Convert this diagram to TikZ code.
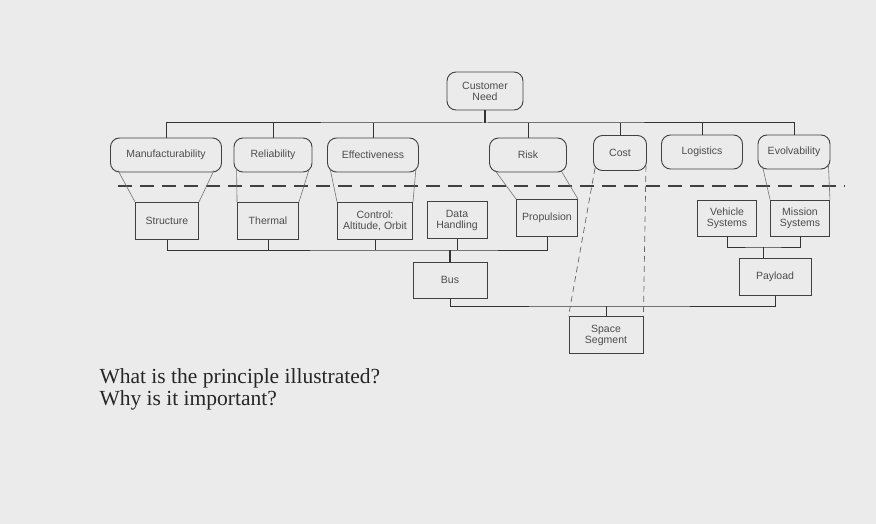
\documentclass[tikz,border=0pt]{standalone}
\usepackage{fontspec}
\setmainfont{Liberation Serif}
\newfontfamily\arial{Liberation Sans}
\begin{document}
\begin{tikzpicture}[x=1pt,y=-1pt,
  rbox/.style={draw=black!75,rounded corners=9pt,line width=0.9pt,minimum height=34pt,inner sep=1pt,font=\arial\fontsize{10.5}{11}\selectfont,text=black!70,align=center},
  sbox/.style={draw=black!75,line width=0.9pt,minimum height=37pt,inner sep=1pt,font=\arial\fontsize{10.5}{11}\selectfont,text=black!70,align=center},
  tree/.style={draw=black!80,line width=1pt},
  fun/.style={draw=black!55,line width=0.6pt},
  fdash/.style={draw=black!60,line width=0.7pt,dash pattern=on 6pt off 4pt}]
\fill[black!8] (0,0) rectangle (876,524);
\useasboundingbox (0,0) rectangle (876,524);
\node[rbox,minimum width=76pt,minimum height=38pt] (cn) at (485,91) {Customer\\Need};
\node[rbox,minimum width=111pt] (mf) at (166,155) {Manufacturability};
\node[rbox,minimum width=78pt] (re) at (273,155) {Reliability};
\node[rbox,minimum width=91pt] (ef) at (373,155) {Effectiveness};
\node[rbox,minimum width=77pt] (ri) at (528,155) {Risk};
\node[rbox,minimum width=53pt,minimum height=35pt] (co) at (620,153) {Cost};
\node[rbox,minimum width=81pt] (lo) at (702,152) {Logistics};
\node[rbox,minimum width=72pt] (ev) at (794,152) {Evolvability};
\node[sbox,minimum width=63pt] (st) at (167,221) {Structure};
\node[sbox,minimum width=61pt] (th) at (268,221) {Thermal};
\node[sbox,minimum width=75pt] (ct) at (375,221) {Control:\\Altitude, Orbit};
\node[sbox,minimum width=60pt] (dh) at (457,220) {Data\\Handling};
\node[sbox,minimum width=61pt] (pr) at (547,218) {Propulsion};
\node[sbox,minimum width=59pt,minimum height=36pt] (vs) at (727,218) {Vehicle\\Systems};
\node[sbox,minimum width=59pt,minimum height=36pt] (ms) at (800,218) {Mission\\Systems};
\node[sbox,minimum width=74pt,minimum height=36pt] (bu) at (450,280) {Bus};
\node[sbox,minimum width=72pt,minimum height=37pt] (pl) at (775,277) {Payload};
\node[sbox,minimum width=74pt,minimum height=37pt] (ss) at (606,335) {Space\\Segment};
% top tree
\coordinate (t) at (485,123);
\draw[tree,line width=1.5pt] (cn.south) -- (t);
\draw[tree] (mf.north) |- (t) -| (ev.north);
\foreach \n in {re,ef,ri,co,lo} \draw[tree] (\n.north) -- (\n.north |- t);
% lower tree
\coordinate (b1) at (450,250);
\draw[tree] (st.south) |- (b1) -| (pr.south);
\foreach \n in {th,ct} \draw[tree] (\n.south) -- (\n.south |- b1);
\draw[tree] (dh.south) -- (dh.south |- b1);
\draw[tree,line width=1.4pt] (b1) -- (bu.north);
\coordinate (b2) at (763,247);
\draw[tree] (vs.south) |- (b2) -| (ms.south);
\draw[tree] (b2) -- (pl.north -| b2);
\coordinate (b3) at (606,306);
\draw[tree] (bu.south) |- (b3) -| (pl.south);
\draw[tree] (b3) -- (ss.north);
% dashed divider
\coordinate (dl) at (118,186); \coordinate (dr) at (845,186);
\draw[draw=black!75,line width=1.3pt,dash pattern=on 14pt off 8pt] (dl) -- (dr);
% funnels
\draw[fun] (mf.south west) ++(8,-2) -- (st.north west);
\draw[fun] (mf.south east) ++(-8,-2) -- (st.north east);
\draw[fun] (re.south west) ++(3,-4) -- (th.north west);
\draw[fun] (re.south east) ++(-3,-4) -- (th.north east);
\draw[fun] (ef.south west) ++(3,-4) -- (ct.north west);
\draw[fun] (ef.south east) ++(-3,-4) -- (ct.north east);
\draw[fun] (ri.south west) ++(6,-2) -- (pr.north west);
\draw[fun] (ri.south east) ++(-6,-2) -- (pr.north east);
\draw[fun] (ev.south west) ++(5,-3) -- (ms.north west);
\draw[fun] (ev.south east) ++(-2,-4) -- (ms.north east);
\draw[fdash] (co.south west) ++(2,-3) -- (ss.north west);
\draw[fdash] (co.south east) ++(-1,-5) -- (ss.north east);
% question text
\node[anchor=west,font=\fontsize{21.5}{22}\selectfont,text=black!85,align=left] (q) at (96,389) {What is the principle illustrated?\\Why is it important?};
\end{tikzpicture}
\end{document}
